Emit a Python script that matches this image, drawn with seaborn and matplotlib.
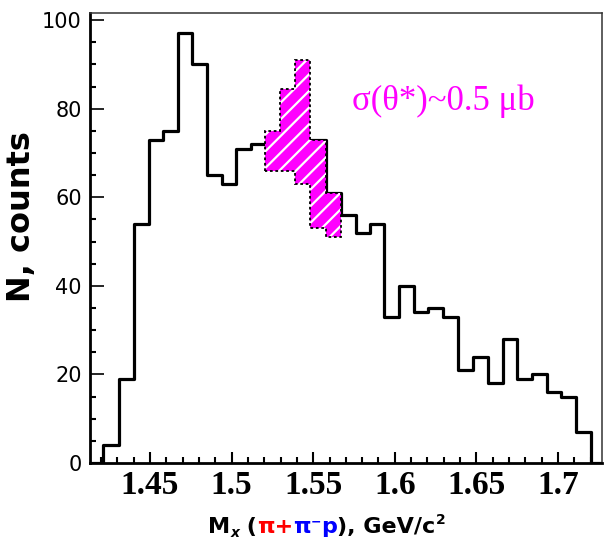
import numpy as np
import pandas as pd
import matplotlib
matplotlib.use("Agg")
import matplotlib.pyplot as plt
from matplotlib.ticker import MultipleLocator
import seaborn as sns

# ---- data ----
bin_edges = [1.4121, 1.4212, 1.4310, 1.4402, 1.4494, 1.4580, 1.4672, 1.4757, 1.4849,
             1.4941, 1.5027, 1.5119, 1.5205, 1.5297, 1.5388, 1.5480, 1.5578,
             1.5670, 1.5762, 1.5848, 1.5934, 1.6026, 1.6118, 1.6203, 1.6295,
             1.6387, 1.6479, 1.6571, 1.6663, 1.6749, 1.6841, 1.6933, 1.7018,
             1.7110, 1.7202, 1.7293]
counts = [0, 4, 19, 54, 73, 75, 97, 90, 65, 63, 71, 72, 72, 72, 72, 73, 61,
          56, 52, 54, 33, 40, 34, 35, 33, 21, 24, 18, 28, 19, 20, 16, 15, 7, 0]

band_edges = [1.5205, 1.5297, 1.5388, 1.5480, 1.5578, 1.5670]
band_top = [75, 84.5, 91, 73, 61]
band_bottom = [66, 66, 63, 53, 51]

x_ticks = [1.45, 1.5, 1.55, 1.6, 1.65, 1.7]
x_tick_labels = ["1.45", "1.5", "1.55", "1.6", "1.65", "1.7"]
y_ticks = [0, 20, 40, 60, 80, 100]
y_tick_labels = ["0", "20", "40", "60", "80", "100"]

annotation = "σ(θ*)~0.5 μb"
y_label = "N, counts"

# ---- figure ----
sns.set_style("white")
plt.rcParams["hatch.linewidth"] = 1.6

W, H = 604, 548
fig = plt.figure(figsize=(W / 100, H / 100), dpi=100)
ax = fig.add_axes([90 / W, (H - 463) / H, 512 / W, 450 / H])

edges = np.array(bin_edges)
centers = (edges[:-1] + edges[1:]) / 2
df = pd.DataFrame({"mass": centers, "n": counts})

sns.histplot(data=df, x="mass", weights="n", bins=list(bin_edges), element="step",
             fill=False, color="black", linewidth=2.3, ax=ax)

# signal band (hatched magenta)
ax.stairs(band_top, band_edges, baseline=band_bottom, fill=True,
          facecolor="#ff00ff", edgecolor="white", hatch="//", linewidth=0, zorder=3)
ax.stairs(band_top, band_edges, baseline=band_bottom, fill=False,
          edgecolor="black", linestyle=(0, (1.5, 1.5)), linewidth=1.3, zorder=4)

ax.set_xlim(1.4132, 1.7270)
ax.set_ylim(0, 101.6)

ax.set_xticks(x_ticks, x_tick_labels, fontfamily=["Liberation Serif", "DejaVu Serif"],
              fontweight="bold", fontsize=24, color="black")
ax.set_yticks(y_ticks, y_tick_labels, fontfamily=["DejaVu Sans"], fontsize=15,
              color="black")
ax.xaxis.set_minor_locator(MultipleLocator(0.01))
ax.yaxis.set_minor_locator(MultipleLocator(5))

ax.tick_params(axis="x", which="major", direction="in", length=8, width=1.5, pad=5,
               bottom=True, top=False, color="black")
ax.tick_params(axis="x", which="minor", direction="in", length=4, width=1.5,
               bottom=True, top=False, color="black")
ax.tick_params(axis="y", which="major", direction="in", length=10, width=1.2, pad=6,
               left=True, right=False, color="black")
ax.tick_params(axis="y", which="minor", direction="in", length=4, width=1.5,
               left=True, right=False, color="black")

for side in ["left", "bottom"]:
    ax.spines[side].set_linewidth(2.0)
    ax.spines[side].set_color("black")
for side in ["top", "right"]:
    ax.spines[side].set_linewidth(1.1)
    ax.spines[side].set_color("#333333")
    ax.spines[side].set_visible(True)

ax.set_xlabel("")
ax.set_ylabel("")

ax.text(1.5738, 81.7, annotation, color="#ff00ff", fontsize=25,
        family=["Liberation Serif", "DejaVu Serif"], ha="left", va="center")

fig.text(22 / W, (H - 217) / H, y_label, rotation=90, ha="center", va="center",
         fontsize=23, fontweight="bold", family=["DejaVu Sans"], color="black")

# multi-coloured x label
pieces = [
    ("M", "black", 16, 0, "normal"),
    ("x", "black", 10, -4, "italic"),
    (" (", "black", 16, 0, "normal"),
    ("π+", "#ff0000", 16, 0, "normal"),
    ("π", "#0000ff", 16, 0, "normal"),
    ("−", "#0000ff", 9, 8, "normal"),
    ("p", "#0000ff", 16, 0, "normal"),
    ("), GeV/c", "black", 16, 0, "normal"),
    ("2", "black", 10, 9, "normal"),
]
fig.canvas.draw()
renderer = fig.canvas.get_renderer()
xpos = 208 / W
ybase = (H - 533) / H
for txt, col, size, dy, style in pieces:
    t = fig.text(xpos, ybase + dy / H, txt, color=col, fontsize=size, fontweight="bold",
                 fontstyle=style, family=["DejaVu Sans"], ha="left", va="baseline")
    w = t.get_window_extent(renderer).width
    xpos += w / fig.bbox.width

fig.savefig("out.png", dpi=100)
